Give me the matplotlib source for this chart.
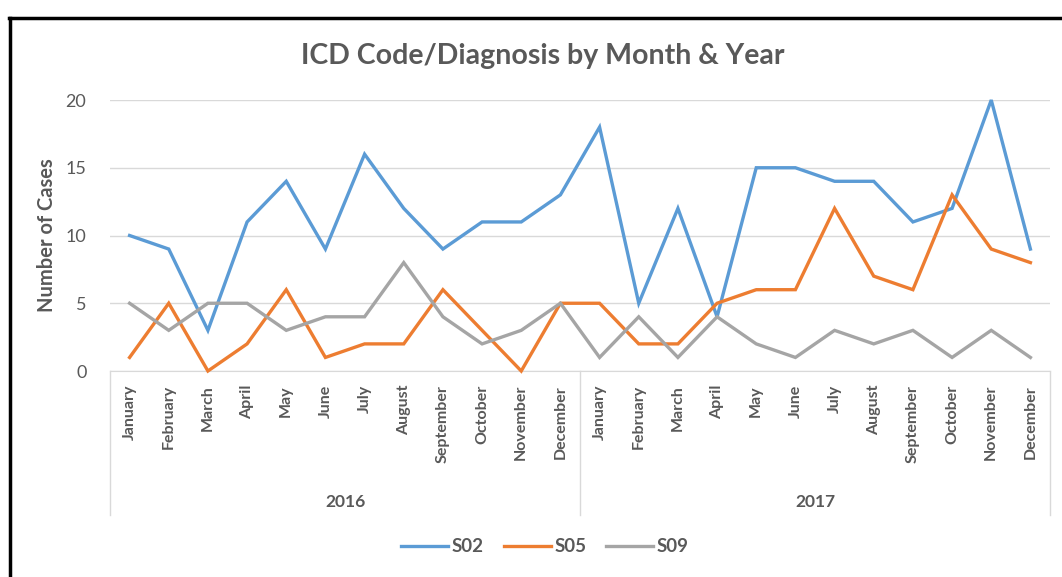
import matplotlib
matplotlib.use("Agg")
import matplotlib.pyplot as plt
from matplotlib.lines import Line2D
import matplotlib.transforms as mtransforms

months = ["January", "February", "March", "April", "May", "June", "July",
          "August", "September", "October", "November", "December"]
years = ["2016", "2017"]
categories = [m for y in years for m in months]

s02 = [10, 9, 3, 11, 14, 9, 16, 12, 9, 11, 11, 13,
       18, 5, 12, 4, 15, 15, 14, 14, 11, 12, 20, 9]
s05 = [1, 5, 0, 2, 6, 1, 2, 2, 6, 3, 0, 5,
       5, 2, 2, 5, 6, 6, 12, 7, 6, 13, 9, 8]
s09 = [5, 3, 5, 5, 3, 4, 4, 8, 4, 2, 3, 5,
       1, 4, 1, 4, 2, 1, 3, 2, 3, 1, 3, 1]
series_names = ["S02", "S05", "S09"]
yticks = [0, 5, 10, 15, 20]

plt.rcParams['font.family'] = ['Lato', 'DejaVu Sans']
W, H = 1062, 577
fig = plt.figure(figsize=(W / 100, H / 100), dpi=100)
fig.patch.set_facecolor("white")

left, right, top, bottom = 110, 1050, 100, 371
ax = fig.add_axes([left / W, 1 - bottom / H, (right - left) / W, (bottom - top) / H])

text_col = "#595959"
grid_col = "#D9D9D9"
colors = ["#5B9BD5", "#ED7D31", "#A5A5A5"]

x = list(range(len(categories)))
for vals, name, c in zip([s02, s05, s09], series_names, colors):
    ax.plot(x, vals, color=c, lw=2.4, label=name, solid_joinstyle="miter", clip_on=False, zorder=3)

ax.set_xlim(-0.5, len(categories) - 0.5)
ax.set_ylim(0, 20)
ax.set_yticks(yticks)
ax.set_yticklabels([str(v) for v in yticks], fontsize=13, color=text_col)
ax.yaxis.grid(True, color=grid_col, lw=1)
ax.set_axisbelow(True)
for s in ["top", "right", "left"]:
    ax.spines[s].set_visible(False)
ax.spines["bottom"].set_color(grid_col)
ax.tick_params(axis="y", length=0, pad=17)
ax.tick_params(axis="x", length=0, pad=10)
ax.set_xticks(x)
ax.set_xticklabels(categories, rotation=90, fontsize=11.5, fontweight="bold", color=text_col, va="top")

ax.set_ylabel("Number of Cases", fontsize=14.5, fontweight="bold", color=text_col, labelpad=6)

# multi-level category axis
trans = mtransforms.blended_transform_factory(ax.transData, ax.transAxes)
yb = (bottom - 515) / (bottom - top)
for xv in [-0.5, 11.5, 23.5]:
    ax.add_line(Line2D([xv, xv], [0, yb], transform=trans, color=grid_col, lw=1, clip_on=False))
ylab = (bottom - 502) / (bottom - top)
for i, yr in enumerate(years):
    ax.text(i * 12 + 5.5, ylab, yr, transform=trans, ha="center", va="center",
            fontsize=12.5, fontweight="bold", color=text_col)

fig.text(543 / W, 1 - 56 / H, "ICD Code/Diagnosis by Month & Year", ha="center", va="center",
         fontsize=20.5, fontweight="bold", color=text_col)

leg = fig.legend(loc="center", bbox_to_anchor=(545 / W, 1 - 547 / H), ncol=3, frameon=False,
                 handlelength=2.5, columnspacing=1.05, handletextpad=0.2,
                 prop={"size": 13.5, "weight": "bold"})
for t in leg.get_texts():
    t.set_color(text_col)

# outer frame (partial, as cropped)
fig.add_artist(Line2D([10 / W, 10 / W], [0, 1 - 18 / H], transform=fig.transFigure, color="black", lw=2.5))
fig.add_artist(Line2D([9 / W, 1], [1 - 18 / H, 1 - 18 / H], transform=fig.transFigure, color="black", lw=2.5))

fig.savefig("out.png", dpi=100, facecolor="white")
